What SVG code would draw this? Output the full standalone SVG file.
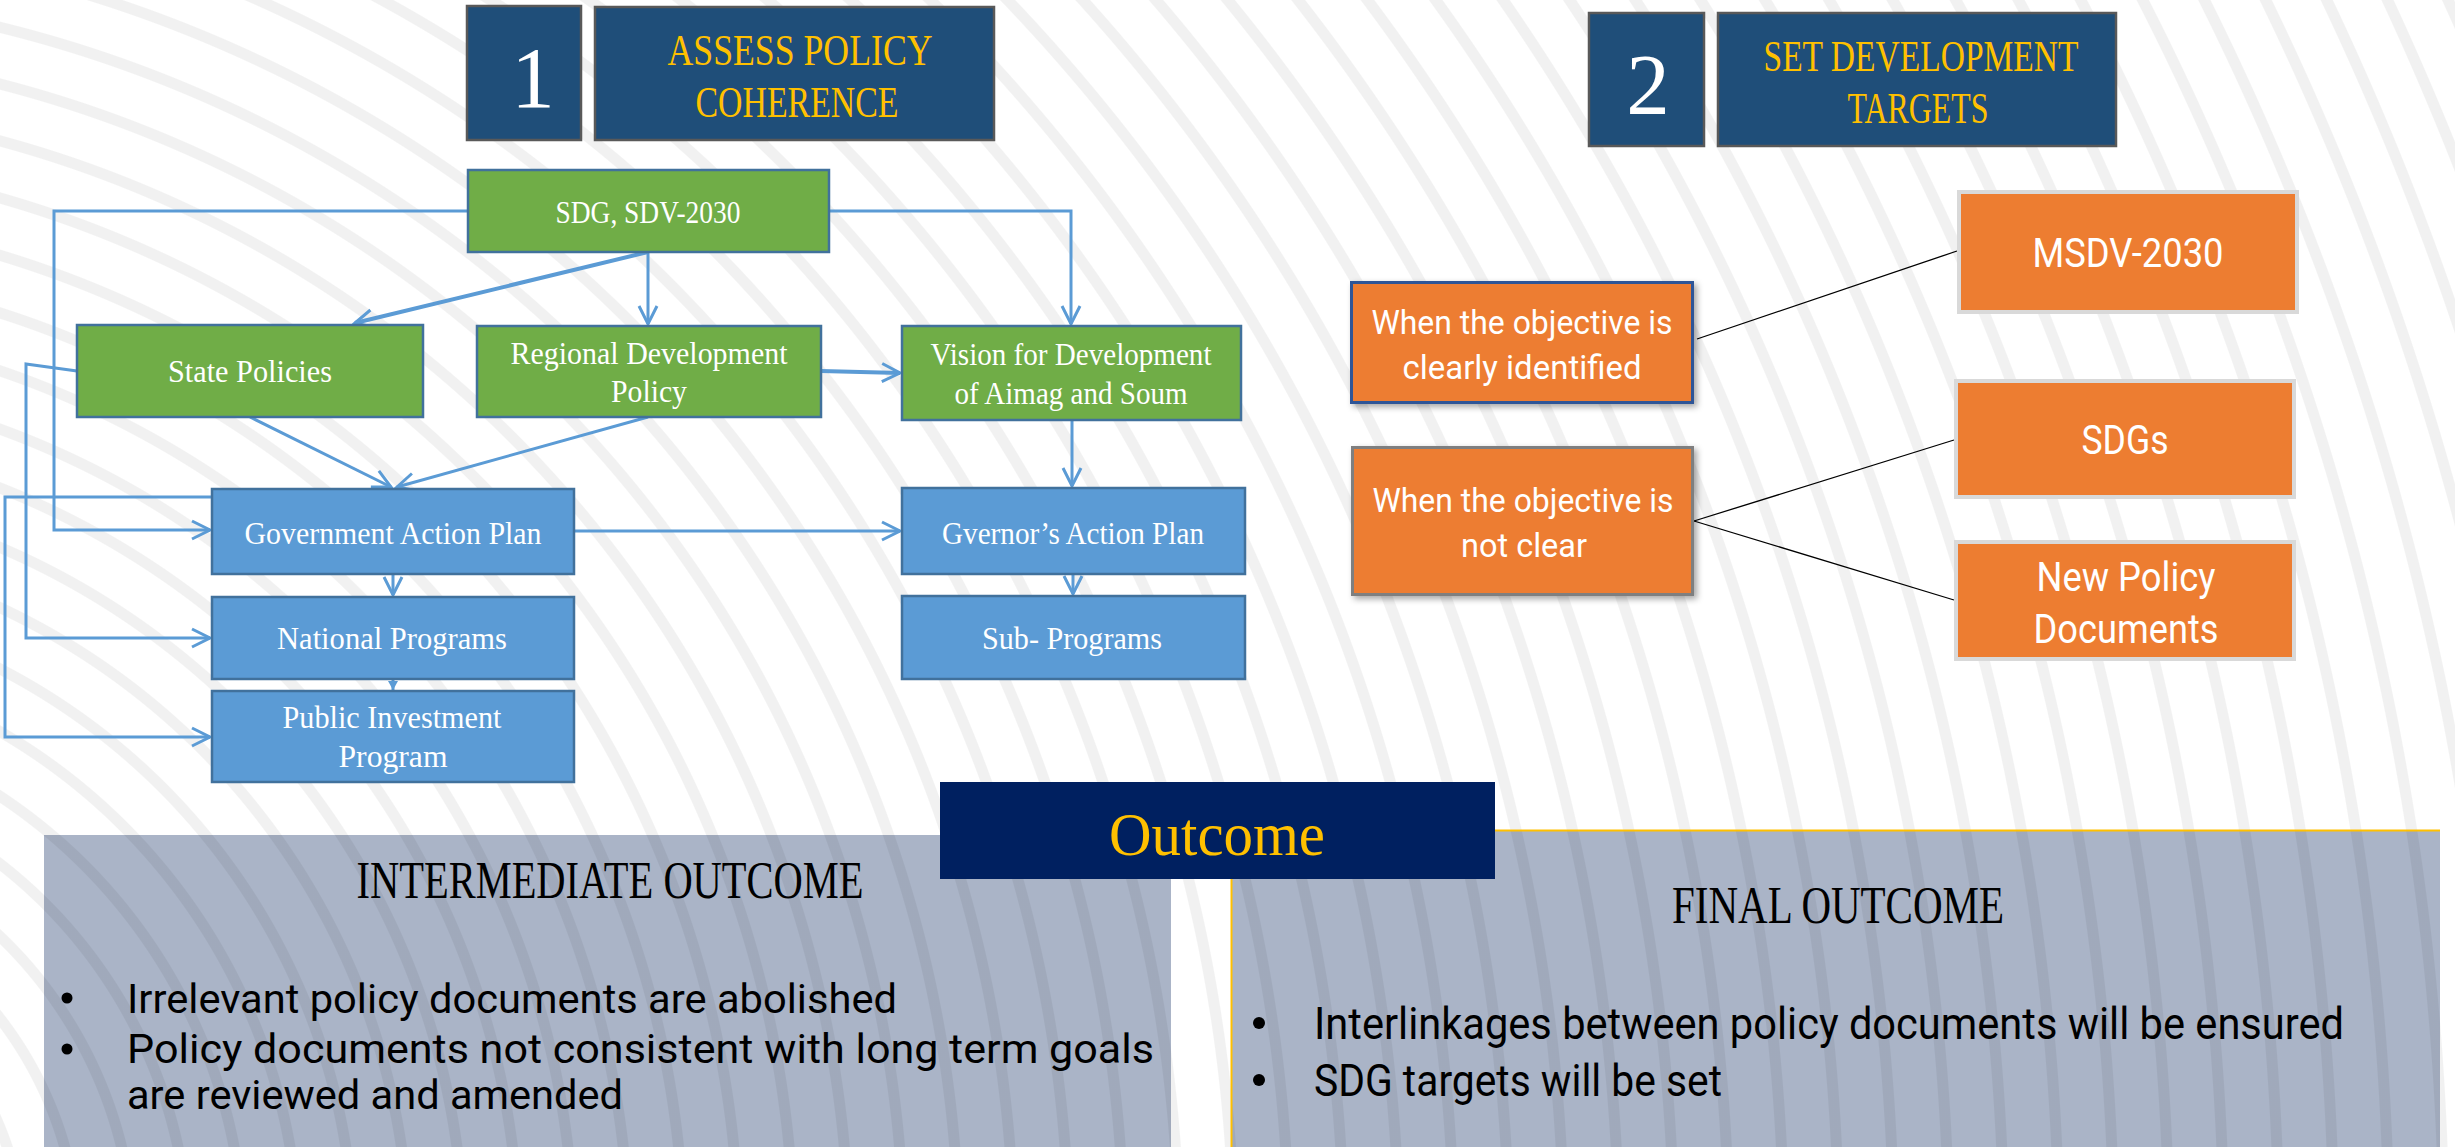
<svg xmlns="http://www.w3.org/2000/svg" width="2455" height="1147" viewBox="0 0 2455 1147">
<style>
.ft{font-family:"Liberation Serif","Times New Roman",serif;fill:#fff;font-size:31px;text-anchor:middle}
.tt{font-family:"Liberation Serif","Times New Roman",serif;fill:#FFC000;font-size:44px;text-anchor:middle}
.num{font-family:"Liberation Serif","Times New Roman",serif;fill:#fff;font-size:87px;text-anchor:middle}
.ot{font-family:Roboto,"Noto Sans",sans-serif;fill:#fff;font-size:34px;text-anchor:middle}
.ot2{font-family:Roboto,"Noto Sans",sans-serif;fill:#fff;font-size:41px;text-anchor:middle}
.hd{font-family:"Liberation Serif","Times New Roman",serif;fill:#000;font-size:52px;text-anchor:middle}
.bt{font-family:Roboto,"Noto Sans",sans-serif;fill:#000;font-size:40px}
.bt2{font-family:Roboto,"Noto Sans",sans-serif;fill:#000;font-size:45px}
.green{fill:#70AD47;stroke:#41719C;stroke-width:2.5}
.blue{fill:#5B9BD5;stroke:#41719C;stroke-width:2.5}
.navy{fill:#1F4E79;stroke:#595959;stroke-width:2.5}
.orange{fill:#ED7D31}
.conn{fill:none;stroke:#5B9BD5;stroke-width:3;marker-end:url(#arr)}
.blk{fill:none;stroke:#000;stroke-width:1.3}
</style>
<defs>
<radialGradient id="rings" gradientUnits="userSpaceOnUse" cx="-300" cy="1250" r="55" fx="-300" fy="1250" spreadMethod="repeat">
<stop offset="0" stop-color="#fff"/>
<stop offset="0.78" stop-color="#fff"/>
<stop offset="0.8" stop-color="#F1F1F1"/>
<stop offset="0.98" stop-color="#F1F1F1"/>
<stop offset="1" stop-color="#fff"/>
</radialGradient>
<radialGradient id="rings2" gradientUnits="userSpaceOnUse" cx="-300" cy="1250" r="55" fx="-300" fy="1250" spreadMethod="repeat">
<stop offset="0" stop-color="#000" stop-opacity="0"/>
<stop offset="0.78" stop-color="#000" stop-opacity="0"/>
<stop offset="0.8" stop-color="#000" stop-opacity="0.06"/>
<stop offset="0.98" stop-color="#000" stop-opacity="0.06"/>
<stop offset="1" stop-color="#000" stop-opacity="0"/>
</radialGradient>
<marker id="arr" viewBox="-22 -12 26 24" refX="0" refY="0" markerWidth="26" markerHeight="24" markerUnits="userSpaceOnUse" orient="auto">
<path d="M-18,-9 L0,0 L-18,9" fill="none" stroke="#5B9BD5" stroke-width="3"/>
</marker>
<marker id="arrS" viewBox="-10 -6 12 12" refX="0" refY="0" markerWidth="12" markerHeight="12" markerUnits="userSpaceOnUse" orient="auto">
<path d="M-9,-5 L0,0 L-9,5 Z" fill="#5B9BD5"/>
</marker>
<filter id="sh" x="-10%" y="-10%" width="120%" height="125%">
<feDropShadow dx="3" dy="3" stdDeviation="3" flood-color="#000" flood-opacity="0.35"/>
</filter>
</defs>

<rect id="background" x="0" y="0" width="2455" height="1147" fill="url(#rings)"/>

<g id="outcome-panels">
<g id="intermediate">
<rect x="44" y="835" width="1127" height="312" fill="#AAB4C7"/>
<rect x="44" y="835" width="1127" height="312" fill="url(#rings2)"/>
<text class="hd" x="610" y="898" textLength="507" lengthAdjust="spacingAndGlyphs">INTERMEDIATE OUTCOME</text>
<circle cx="67" cy="998" r="5.5" fill="#000"/>
<text class="bt" x="127" y="1013" textLength="770" lengthAdjust="spacingAndGlyphs">Irrelevant policy documents are abolished</text>
<circle cx="67" cy="1049" r="5.5" fill="#000"/>
<text class="bt" x="127" y="1063" textLength="1027" lengthAdjust="spacingAndGlyphs">Policy documents not consistent with long term goals</text>
<text class="bt" x="127" y="1109" textLength="496" lengthAdjust="spacingAndGlyphs">are reviewed and amended</text>
</g>
<g id="final">
<rect x="1231" y="830" width="1209" height="317" fill="#AAB4C7"/>
<rect x="1231" y="830" width="1209" height="317" fill="url(#rings2)"/>
<path d="M1231.5,1147 V830.5 H2440" fill="none" stroke="#FFC000" stroke-width="2"/>
<text class="hd" x="1838" y="923" textLength="332" lengthAdjust="spacingAndGlyphs">FINAL OUTCOME</text>
<circle cx="1259" cy="1023" r="6" fill="#000"/>
<text class="bt2" x="1314" y="1039" textLength="1030" lengthAdjust="spacingAndGlyphs">Interlinkages between policy documents will be ensured</text>
<circle cx="1259" cy="1080" r="6" fill="#000"/>
<text class="bt2" x="1314" y="1096" textLength="408" lengthAdjust="spacingAndGlyphs">SDG targets will be set</text>
</g>
<g id="outcome">
<rect x="940" y="782" width="555" height="97" fill="#002060"/>
<text x="1217" y="855" font-family="Liberation Serif, serif" font-size="62" fill="#FFC000" text-anchor="middle" textLength="216" lengthAdjust="spacingAndGlyphs">Outcome</text>
</g>
</g>

<g id="titles">
<g id="title1-num">
<rect class="navy" x="467" y="6" width="114" height="134"/>
<text class="num" x="533" y="107">1</text>
</g>
<g id="title1">
<rect class="navy" x="595" y="7" width="399" height="133"/>
<text class="tt" x="800" y="65" textLength="265" lengthAdjust="spacingAndGlyphs">ASSESS POLICY</text>
<text class="tt" x="797" y="117" textLength="203" lengthAdjust="spacingAndGlyphs">COHERENCE</text>
</g>
<g id="title2-num">
<rect class="navy" x="1589" y="13" width="115" height="133"/>
<text class="num" x="1648" y="114">2</text>
</g>
<g id="title2">
<rect class="navy" x="1718" y="13" width="398" height="133"/>
<text class="tt" x="1921" y="71" textLength="315" lengthAdjust="spacingAndGlyphs">SET DEVELOPMENT</text>
<text class="tt" x="1918" y="123" textLength="141" lengthAdjust="spacingAndGlyphs">TARGETS</text>
</g>
</g>

<g id="connectors">
<path class="conn" d="M468,211 H54 V530 H210"/>
<path class="conn" d="M829,211 H1071 V324"/>
<path class="conn" d="M648,252 V324"/>
<path class="conn" style="stroke-width:4" d="M648,252 L355,323"/>
<path class="conn" style="stroke-width:4" d="M821,371 L900,373"/>
<path class="conn" d="M77,371 L26,364 V638 H210"/>
<path class="conn" d="M212,497 H5 V737 H210"/>
<path class="conn" d="M250,417 L391,487"/>
<path class="conn" d="M648,417 L397,487"/>
<path class="conn" d="M574,531 H900"/>
<path class="conn" d="M1072,420 V486"/>
<path class="conn" d="M393,574 V595"/>
<path class="conn" style="marker-end:url(#arrS)" d="M393,679 V690"/>
<path class="conn" d="M1073,574 V594"/>
<path class="blk" d="M1697,339 L1957,251"/>
<path class="blk" d="M1694,521 L1954,440"/>
<path class="blk" d="M1694,521 L1954,600"/>
</g>

<g id="sdg">
<rect class="green" x="468" y="170" width="361" height="82"/>
<text class="ft" x="648" y="223" textLength="185" lengthAdjust="spacingAndGlyphs">SDG, SDV-2030</text>
</g>
<g id="state-policies">
<rect class="green" x="77" y="325" width="346" height="92"/>
<text class="ft" x="250" y="382" textLength="164" lengthAdjust="spacingAndGlyphs">State Policies</text>
</g>
<g id="regional">
<rect class="green" x="477" y="326" width="344" height="91"/>
<text class="ft" x="649" y="364" textLength="277" lengthAdjust="spacingAndGlyphs">Regional Development</text>
<text class="ft" x="649" y="402" textLength="76" lengthAdjust="spacingAndGlyphs">Policy</text>
</g>
<g id="vision">
<rect class="green" x="902" y="326" width="339" height="94"/>
<text class="ft" x="1071" y="365" textLength="281" lengthAdjust="spacingAndGlyphs">Vision for Development</text>
<text class="ft" x="1071" y="404" textLength="233" lengthAdjust="spacingAndGlyphs">of Aimag and Soum</text>
</g>
<g id="gov-action-plan">
<rect class="blue" x="212" y="489" width="362" height="85"/>
<text class="ft" x="393" y="544" textLength="297" lengthAdjust="spacingAndGlyphs">Government Action Plan</text>
</g>
<g id="national-programs">
<rect class="blue" x="212" y="597" width="362" height="82"/>
<text class="ft" x="392" y="649" textLength="230" lengthAdjust="spacingAndGlyphs">National Programs</text>
</g>
<g id="public-investment">
<rect class="blue" x="212" y="691" width="362" height="91"/>
<text class="ft" x="392" y="728" textLength="219" lengthAdjust="spacingAndGlyphs">Public Investment</text>
<text class="ft" x="393" y="767" textLength="109" lengthAdjust="spacingAndGlyphs">Program</text>
</g>
<g id="governor-action-plan">
<rect class="blue" x="902" y="488" width="343" height="86"/>
<text class="ft" x="1073" y="544" textLength="262" lengthAdjust="spacingAndGlyphs">Gvernor’s Action Plan</text>
</g>
<g id="sub-programs">
<rect class="blue" x="902" y="596" width="343" height="83"/>
<text class="ft" x="1072" y="649" textLength="180" lengthAdjust="spacingAndGlyphs">Sub- Programs</text>
</g>

<g id="obj-clear">
<rect class="orange" x="1351.5" y="282.5" width="341" height="120" stroke="#2F5597" stroke-width="3" filter="url(#sh)"/>
<text class="ot" x="1522" y="334" textLength="301" lengthAdjust="spacingAndGlyphs">When the objective is</text>
<text class="ot" x="1522" y="379" textLength="239" lengthAdjust="spacingAndGlyphs">clearly identified</text>
</g>
<g id="obj-not-clear">
<rect class="orange" x="1352.5" y="447.5" width="340" height="147" stroke="#7F7F7F" stroke-width="3" filter="url(#sh)"/>
<text class="ot" x="1523" y="512" textLength="301" lengthAdjust="spacingAndGlyphs">When the objective is</text>
<text class="ot" x="1524" y="557" textLength="126" lengthAdjust="spacingAndGlyphs">not clear</text>
</g>
<g id="msdv">
<rect class="orange" x="1959" y="192" width="338" height="120" stroke="#D9D9D9" stroke-width="4"/>
<text class="ot2" x="2128" y="267" textLength="191" lengthAdjust="spacingAndGlyphs">MSDV-2030</text>
</g>
<g id="sdgs">
<rect class="orange" x="1956" y="381" width="338" height="116" stroke="#D9D9D9" stroke-width="4"/>
<text class="ot2" x="2125" y="454" textLength="87" lengthAdjust="spacingAndGlyphs">SDGs</text>
</g>
<g id="new-policy">
<rect class="orange" x="1956" y="542" width="338" height="117" stroke="#D9D9D9" stroke-width="4"/>
<text class="ot2" x="2126" y="591" textLength="179" lengthAdjust="spacingAndGlyphs">New Policy</text>
<text class="ot2" x="2126" y="643" textLength="185" lengthAdjust="spacingAndGlyphs">Documents</text>
</g>
</svg>
